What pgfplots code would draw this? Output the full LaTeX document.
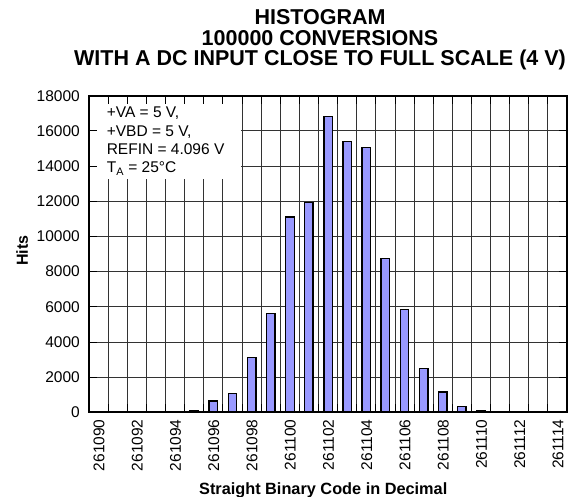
\documentclass[border=0pt]{standalone}
\usepackage{fontspec}
\setmainfont{Liberation Sans}
\usepackage{pgfplots}
\usepackage{pgfplotstable}
\pgfplotsset{compat=1.18}
\definecolor{barblue}{RGB}{153,153,255}

% hits per output code, 100000 conversions
\pgfplotstableread{
code   hits
261095 120
261096 640
261097 1060
261098 3100
261099 5620
261100 11100
261101 11920
261102 16800
261103 15400
261104 15050
261105 8740
261106 5850
261107 2500
261108 1150
261109 320
261110 110
}\histdata

% like the standard layer set, plus a layer for the white info box
\pgfplotsset{
  layers/boxed/.define layer set={
    axis background,axis grid,infobox,axis ticks,main,axis lines,
    axis tick labels,axis descriptions,axis foreground
  }{
    grid style={/pgfplots/on layer=axis grid},
    tick style={/pgfplots/on layer=axis ticks},
    axis line style={/pgfplots/on layer=axis lines},
    label style={/pgfplots/on layer=axis descriptions},
    legend style={/pgfplots/on layer=axis foreground},
    title style={/pgfplots/on layer=axis descriptions},
    ticklabel style={/pgfplots/on layer=axis tick labels},
    axis background@ style={/pgfplots/on layer=axis background},
  },
}

\begin{document}
\begin{tikzpicture}
\begin{axis}[
  set layers=boxed,
  scale only axis,
  width=478bp, height=316.6bp,
  xmin=-0.5, xmax=24.5,
  ymin=0, ymax=18000,
  font=\fontsize{15.5bp}{18bp}\selectfont,
  /pgf/number format/assume math mode=true,
  /pgf/number format/set thousands separator={},
  scaled y ticks=false,
  axis line style={line width=1.8bp},
  tick align=inside,
  major tick length=8bp,
  every tick/.style={black, line width=0.8bp},
  grid style={black!80, line width=0.8bp},
  xmajorgrids=true, ymajorgrids=true,
  xtick={-0.5,0.5,1.5,2.5,3.5,4.5,5.5,6.5,7.5,8.5,9.5,10.5,11.5,12.5,
         13.5,14.5,15.5,16.5,17.5,18.5,19.5,20.5,21.5,22.5,23.5,24.5},
  xticklabels={},
  extra x ticks={0,2,4,6,8,10,12,14,16,18,20,22,24},
  extra x tick labels={261090,261092,261094,261096,261098,261100,261102,
                       261104,261106,261108,261110,261112,261114},
  extra x tick style={major tick length=0pt, grid=none},
  xticklabel style={rotate=90, anchor=east, inner sep=0pt, yshift=-0.5bp, xshift=-7bp},
  ytick={0,2000,4000,6000,8000,10000,12000,14000,16000,18000},
  yticklabel style={inner sep=0pt, xshift=-9bp},
  xlabel={\bfseries Straight Binary Code in Decimal},
  xlabel style={at={(axis description cs:0.49,0)}, anchor=base, yshift=-81.7bp,
                font=\fontsize{16.3bp}{18bp}\selectfont},
  ylabel={\bfseries Hits},
  ylabel style={at={(axis description cs:0,0.51)}, anchor=base, yshift=61bp,
                font=\fontsize{16bp}{18bp}\selectfont},
  clip=false,
]
\addplot[ybar, bar width=8.5bp, fill=barblue, draw=black, line width=1.3bp]
  table[x expr=\thisrow{code}-261090, y=hits]{\histdata};

\begin{pgfonlayer}{infobox}
  \fill[white] (axis cs:-0.47,13250) rectangle (axis cs:7.47,17950);
\end{pgfonlayer}
\node[anchor=north west, align=left, inner sep=0pt,
      font=\fontsize{15.5bp}{18.3bp}\selectfont]
  at (axis cs:0.42,17350)
  {+VA = 5 V,\\+VBD = 5 V,\\REFIN = 4.096 V\\T\textsubscript{A} = 25°C};

\node[anchor=base, font=\fontsize{21.5bp}{21bp}\selectfont\bfseries]
  at (231bp,387.3bp) {HISTOGRAM};
\node[anchor=base, font=\fontsize{21.5bp}{21bp}\selectfont\bfseries]
  at (231bp,366.3bp) {100000 CONVERSIONS};
\node[anchor=base, font=\fontsize{21.5bp}{21bp}\selectfont\bfseries]
  at (231bp,346.3bp) {WITH A DC INPUT CLOSE TO FULL SCALE (4 V)};
\end{axis}
\pgfresetboundingbox
\path (-89bp,-84.7bp) rectangle (487bp,412.3bp);
\end{tikzpicture}
\end{document}
